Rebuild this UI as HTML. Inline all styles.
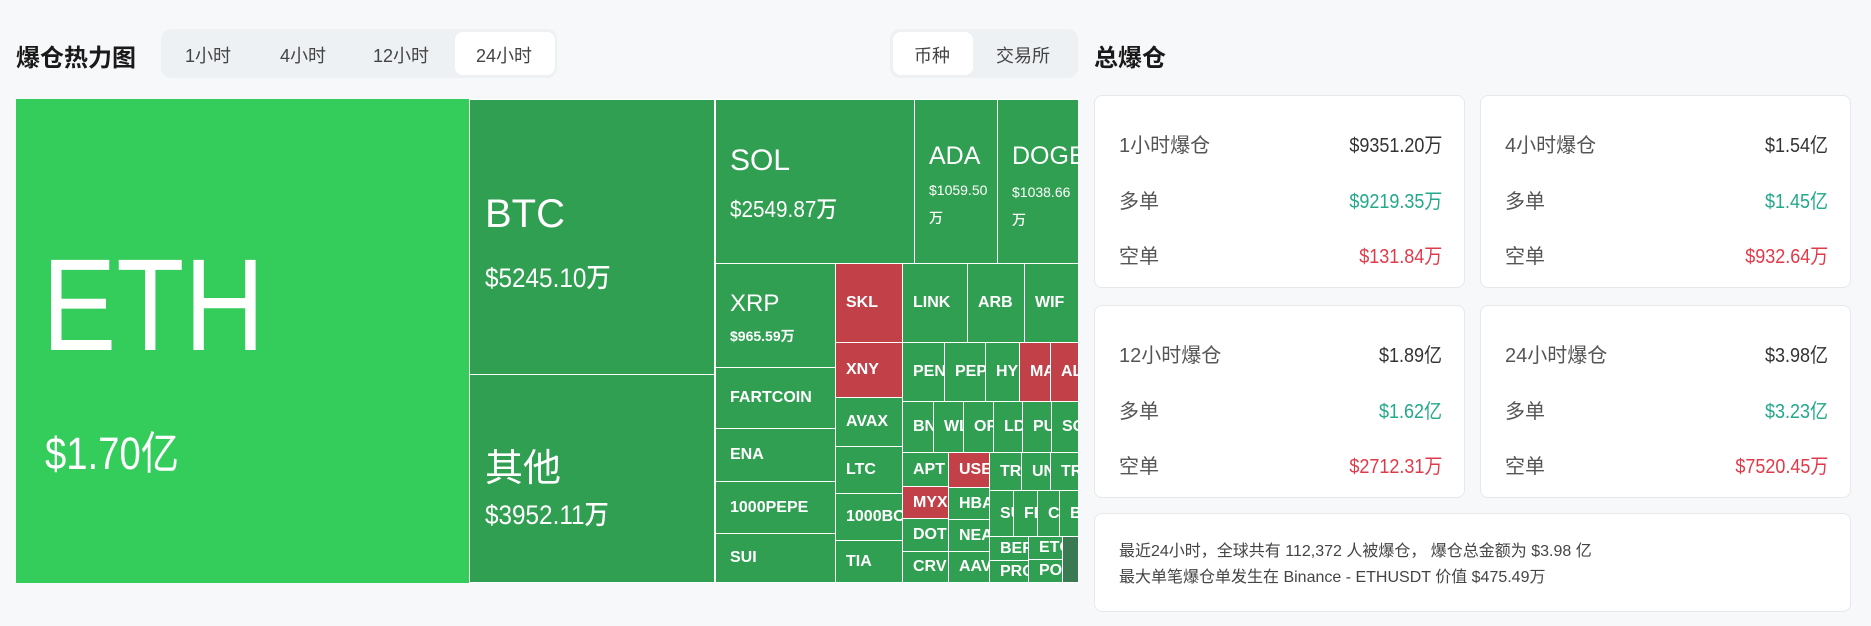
<!DOCTYPE html>
<html><head><meta charset="utf-8"><style>
*{margin:0;padding:0;box-sizing:border-box}
body{width:1871px;height:626px;background:#f7f8fa;font-family:"Liberation Sans","Noto Sans CJK SC",sans-serif;position:relative;overflow:hidden;color:#222}
.a{position:absolute}
.t{position:absolute;background:#309f51;border:1px solid #fff;color:#fff;overflow:hidden;white-space:nowrap;font-weight:500}
.r{background:#c24149}
.s{font-size:16px;display:flex;align-items:center;padding-left:10px;font-weight:bold}
.card{position:absolute;background:#fff;border:1px solid #e6e8eb;border-radius:8px}
.row{position:absolute;left:24px;right:22px;display:flex;justify-content:space-between;font-size:20px;color:#555}
.row b{font-weight:normal;color:#333;display:inline-block;transform:scaleX(0.9);transform-origin:right}
.g{color:#22a88a!important}.d{color:#e03a4a!important}
.n{display:inline-block;transform:scaleX(0.9);transform-origin:left}
</style></head><body>
<div class="a" style="left:16px;top:38px;font-size:24px;font-weight:bold;color:#1a1a1a">爆仓热力图</div>
<div class="a" style="left:161px;top:29px;width:396px;height:49px;background:#eef1f4;border-radius:10px"></div>
<div class="a" style="left:455px;top:32px;width:100px;height:43px;background:#fff;border-radius:8px"></div>
<div class="a" style="left:185px;top:42px;font-size:18px;color:#444">1小时</div>
<div class="a" style="left:280px;top:42px;font-size:18px;color:#444">4小时</div>
<div class="a" style="left:373px;top:42px;font-size:18px;color:#444">12小时</div>
<div class="a" style="left:476px;top:42px;font-size:18px;color:#444">24小时</div>
<div class="a" style="left:890px;top:29px;width:188px;height:49px;background:#eef1f4;border-radius:10px"></div>
<div class="a" style="left:893px;top:32px;width:80px;height:43px;background:#fff;border-radius:8px"></div>
<div class="a" style="left:914px;top:42px;font-size:18px;color:#444">币种</div>
<div class="a" style="left:996px;top:42px;font-size:18px;color:#444">交易所</div>

<div class="t" style="left:16px;top:99px;width:453px;height:484px;background:#34cc5a;border:none">
<div class="a" style="left:26px;top:130px;font-size:131px;font-weight:normal;transform:scaleX(0.85);transform-origin:left">ETH</div>
<div class="a" style="left:29px;top:318px;font-size:45px;font-weight:normal;transform:scaleX(0.85);transform-origin:left">$1.70亿</div></div>
<div class="t" style="left:469px;top:99px;width:246px;height:276px">
<div class="a" style="left:15px;top:92px;font-size:40px;font-weight:normal">BTC</div>
<div class="a" style="left:15px;top:156px;font-size:27px"><span class="n">$5245.10万</span></div></div>
<div class="t" style="left:469px;top:374px;width:246px;height:209px">
<div class="a" style="left:15px;top:62px;font-size:38px;font-weight:normal">其他</div>
<div class="a" style="left:15px;top:118px;font-size:27px"><span class="n">$3952.11万</span></div></div>
<div class="t" style="left:715px;top:99px;width:200px;height:165px">
<div class="a" style="left:14px;top:44px;font-size:30px;font-weight:normal">SOL</div>
<div class="a" style="left:14px;top:90px;font-size:23px"><span class="n">$2549.87万</span></div></div>
<div class="t" style="left:914px;top:99px;width:84px;height:165px">
<div class="a" style="left:14px;top:42px;font-size:25px;font-weight:normal">ADA</div>
<div class="a" style="left:14px;top:82px;font-size:14px">$1059.50</div>
<div class="a" style="left:14px;top:108px;font-size:14px">万</div></div>
<div class="t" style="left:997px;top:99px;width:82px;height:165px">
<div class="a" style="left:14px;top:42px;font-size:25px;font-weight:normal">DOGE</div>
<div class="a" style="left:14px;top:84px;font-size:14px">$1038.66</div>
<div class="a" style="left:14px;top:110px;font-size:14px">万</div></div>
<div class="t" style="left:715px;top:263px;width:121px;height:105px">
<div class="a" style="left:14px;top:26px;font-size:24px;font-weight:normal">XRP</div>
<div class="a" style="left:14px;top:62px;font-size:14px;font-weight:bold">$965.59万</div></div>
<div class="t s" style="left:715px;top:367px;width:121px;height:62px;padding-left:14px">FARTCOIN</div>
<div class="t s" style="left:715px;top:428px;width:121px;height:54px;padding-left:14px">ENA</div>
<div class="t s" style="left:715px;top:481px;width:121px;height:53px;padding-left:14px">1000PEPE</div>
<div class="t s" style="left:715px;top:533px;width:121px;height:50px;padding-left:14px">SUI</div>
<div class="t s r" style="left:835px;top:263px;width:68px;height:80px">SKL</div>
<div class="t s r" style="left:835px;top:342px;width:68px;height:56px">XNY</div>
<div class="t s" style="left:835px;top:397px;width:68px;height:50px">AVAX</div>
<div class="t s" style="left:835px;top:446px;width:68px;height:48px">LTC</div>
<div class="t s" style="left:835px;top:493px;width:68px;height:48px">1000BONK</div>
<div class="t s" style="left:835px;top:540px;width:68px;height:43px">TIA</div>
<div class="t s" style="left:902px;top:263px;width:66px;height:80px">LINK</div>
<div class="t s" style="left:967px;top:263px;width:58px;height:80px">ARB</div>
<div class="t s" style="left:1024px;top:263px;width:55px;height:80px">WIF</div>
<div class="t s" style="left:902px;top:342px;width:43px;height:60px">PENDLE</div>
<div class="t s" style="left:944px;top:342px;width:42px;height:60px">PEPE</div>
<div class="t s" style="left:985px;top:342px;width:35px;height:60px">HYPE</div>
<div class="t s r" style="left:1019px;top:342px;width:32px;height:60px">MANA</div>
<div class="t s r" style="left:1050px;top:342px;width:29px;height:60px">ALT</div>
<div class="t s" style="left:902px;top:401px;width:32px;height:52px">BNB</div>
<div class="t s" style="left:933px;top:401px;width:31px;height:52px">WLD</div>
<div class="t s" style="left:963px;top:401px;width:31px;height:52px">OP</div>
<div class="t s" style="left:993px;top:401px;width:30px;height:52px">LDO</div>
<div class="t s" style="left:1022px;top:401px;width:30px;height:52px">PUMP</div>
<div class="t s" style="left:1051px;top:401px;width:28px;height:52px">SOL</div>
<div class="t s" style="left:902px;top:452px;width:47px;height:35px">APT</div>
<div class="t s r" style="left:902px;top:486px;width:47px;height:33px">MYX</div>
<div class="t s" style="left:902px;top:518px;width:47px;height:34px">DOT</div>
<div class="t s" style="left:902px;top:551px;width:47px;height:32px">CRV</div>
<div class="t s r" style="left:948px;top:452px;width:42px;height:36px">USELESS</div>
<div class="t s" style="left:948px;top:487px;width:42px;height:33px">HBAR</div>
<div class="t s" style="left:948px;top:519px;width:42px;height:33px">NEAR</div>
<div class="t s" style="left:948px;top:551px;width:42px;height:32px">AAVE</div>
<div class="t s" style="left:989px;top:452px;width:33px;height:39px">TRX</div>
<div class="t s" style="left:1021px;top:452px;width:30px;height:39px">UNI</div>
<div class="t s" style="left:1050px;top:452px;width:29px;height:39px">TRUMP</div>
<div class="t s" style="left:989px;top:490px;width:25px;height:47px">SUI</div>
<div class="t s" style="left:1013px;top:490px;width:25px;height:47px">FIL</div>
<div class="t s" style="left:1037px;top:490px;width:23px;height:47px">C</div>
<div class="t s" style="left:1059px;top:490px;width:20px;height:47px">B</div>
<div class="t s" style="left:989px;top:536px;width:40px;height:25px">BERA</div>
<div class="t s" style="left:989px;top:560px;width:40px;height:23px">PROVE</div>
<div class="t s" style="left:1028px;top:536px;width:35px;height:24px">ETC</div>
<div class="t s" style="left:1028px;top:559px;width:35px;height:24px">POL</div>
<div class="t" style="left:1062px;top:536px;width:17px;height:47px;background:#3a7a52"></div>

<div class="a" style="left:1094px;top:38px;font-size:24px;font-weight:bold;color:#1a1a1a">总爆仓</div>
<div class="card" style="left:1094px;top:95px;width:371px;height:193px">
<div class="row" style="top:33px"><span>1小时爆仓</span><b>$9351.20万</b></div>
<div class="row" style="top:89px"><span>多单</span><b class="g">$9219.35万</b></div>
<div class="row" style="top:144px"><span>空单</span><b class="d">$131.84万</b></div></div>
<div class="card" style="left:1480px;top:95px;width:371px;height:193px">
<div class="row" style="top:33px"><span>4小时爆仓</span><b>$1.54亿</b></div>
<div class="row" style="top:89px"><span>多单</span><b class="g">$1.45亿</b></div>
<div class="row" style="top:144px"><span>空单</span><b class="d">$932.64万</b></div></div>
<div class="card" style="left:1094px;top:305px;width:371px;height:193px">
<div class="row" style="top:33px"><span>12小时爆仓</span><b>$1.89亿</b></div>
<div class="row" style="top:89px"><span>多单</span><b class="g">$1.62亿</b></div>
<div class="row" style="top:144px"><span>空单</span><b class="d">$2712.31万</b></div></div>
<div class="card" style="left:1480px;top:305px;width:371px;height:193px">
<div class="row" style="top:33px"><span>24小时爆仓</span><b>$3.98亿</b></div>
<div class="row" style="top:89px"><span>多单</span><b class="g">$3.23亿</b></div>
<div class="row" style="top:144px"><span>空单</span><b class="d">$7520.45万</b></div></div>
<div class="card" style="left:1094px;top:513px;width:757px;height:99px">
<div class="a" style="left:24px;top:25px;font-size:16px;color:#444;line-height:26px">最近24小时，全球共有 112,372 人被爆仓， 爆仓总金额为 $3.98 亿<br>最大单笔爆仓单发生在 Binance - ETHUSDT 价值 $475.49万</div></div>
</body></html>
